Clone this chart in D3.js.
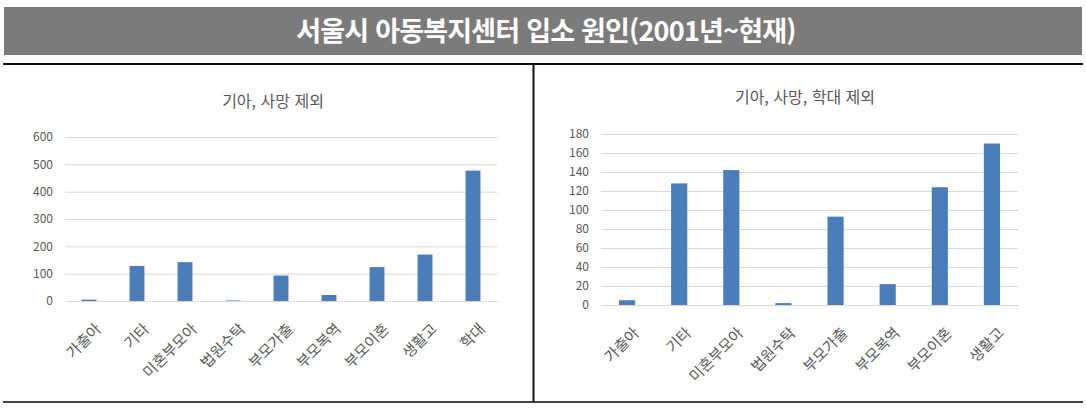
<!DOCTYPE html>
<html lang="ko">
<head>
<meta charset="utf-8">
<title>서울시 아동복지센터 입소 원인</title>
<script src="https://cdn.jsdelivr.net/npm/d3@7"></script>
<style>
body { margin: 0; background: white; font-family: "Noto Sans CJK KR", "Noto Sans", sans-serif; }
svg text { font-family: "Noto Sans CJK KR", "Noto Sans", sans-serif; }
</style>
</head>
<body>
<svg id="chart" width="1086" height="410"></svg>
<script>
// 입소 원인 (학대 포함 / 제외)
var causesAll = ["가출아", "기타", "미혼부모아", "법원수탁", "부모가출", "부모복역", "부모이혼", "생활고", "학대"];
var countsAll = [5, 128, 142, 2, 93, 22, 124, 170, 477];
var causesNoAbuse = ["가출아", "기타", "미혼부모아", "법원수탁", "부모가출", "부모복역", "부모이혼", "생활고"];
var countsNoAbuse = [5, 128, 142, 2, 93, 22, 124, 170];
var ticksAll = [0, 100, 200, 300, 400, 500, 600];
var ticksNoAbuse = [0, 20, 40, 60, 80, 100, 120, 140, 160, 180];

var svg = d3.select("#chart");

// header bar
svg.append("rect").attr("x", 4).attr("y", 7).attr("width", 1078).attr("height", 48).attr("fill", "#7b7b7b");
svg.append("text").attr("x", 546).attr("y", 41).attr("text-anchor", "middle")
    .attr("fill", "white").attr("font-size", 27).attr("font-weight", "bold")
    .attr("letter-spacing", -0.8)
    .text("서울시 아동복지센터 입소 원인(2001년~현재)");

// frame lines
svg.append("line").attr("x1", 3).attr("x2", 1083).attr("y1", 64).attr("y2", 64).attr("stroke", "#111").attr("stroke-width", 2);
svg.append("line").attr("x1", 3).attr("x2", 1083).attr("y1", 402).attr("y2", 402).attr("stroke", "#444").attr("stroke-width", 2);
svg.append("line").attr("x1", 533.5).attr("x2", 533.5).attr("y1", 64).attr("y2", 402).attr("stroke", "#111").attr("stroke-width", 2);

function drawChart(opt) {
    var g = svg.append("g");
    var x = d3.scaleBand().domain(opt.cats).range([opt.x0, opt.x1]).paddingInner(0.69).paddingOuter(0.345);
    var y = d3.scaleLinear().domain([0, opt.max]).range([opt.y0, opt.y1]);

    g.append("text").attr("x", opt.titleX).attr("y", opt.titleY).attr("text-anchor", "middle")
        .attr("fill", "#595959").attr("font-size", 16).text(opt.title);

    var yAxis = d3.axisLeft(y).tickValues(opt.ticks).tickSize(-(opt.x1 - opt.x0)).tickPadding(12);
    var ya = g.append("g").attr("transform", "translate(" + opt.x0 + ",0)").call(yAxis);
    ya.select(".domain").remove();
    ya.selectAll(".tick line").attr("stroke", "#d9d9d9");
    ya.selectAll(".tick text").attr("fill", "#595959").attr("font-size", 12);

    g.selectAll(".bar").data(opt.vals).enter().append("rect")
        .attr("x", function(d, i) { return x(opt.cats[i]); })
        .attr("y", function(d) { return y(d); })
        .attr("width", x.bandwidth())
        .attr("height", function(d) { return opt.y0 - y(d); })
        .attr("fill", "#4a7ebb");

    var xa = g.append("g").attr("transform", "translate(0," + opt.y0 + ")")
        .call(d3.axisBottom(x).tickSize(0).tickPadding(0));
    xa.select(".domain").attr("stroke", "#d9d9d9");
    xa.selectAll(".tick text")
        .attr("fill", "#595959").attr("font-size", 15)
        .attr("text-anchor", "end")
        .attr("dy", 0)
        .attr("transform", "translate(13,29) rotate(-45)");
}

drawChart({
    cats: causesAll, vals: countsAll, ticks: ticksAll, max: 600,
    x0: 65, x1: 497, y0: 301, y1: 137,
    title: "기아, 사망 제외", titleX: 273, titleY: 107
});
drawChart({
    cats: causesNoAbuse, vals: countsNoAbuse, ticks: ticksNoAbuse, max: 180,
    x0: 601, x1: 1018, y0: 305, y1: 134,
    title: "기아, 사망, 학대 제외", titleX: 805, titleY: 103
});
</script>
</body>
</html>
